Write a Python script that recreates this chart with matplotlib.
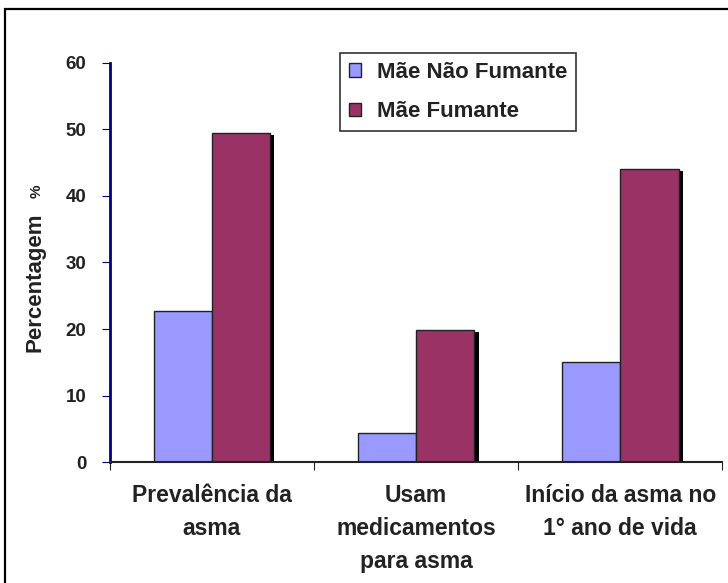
import matplotlib.pyplot as plt
from matplotlib.patches import Rectangle

categories = ['Prevalência da\nasma', 'Usam\nmedicamentos\npara asma', 'Início da asma no\n1° ano de vida']
nao_fumante = [22.7, 4.4, 15.0]
fumante = [49.5, 19.8, 44.1]
series_names = ['Mãe Não Fumante', 'Mãe Fumante']
y_ticks = [0, 10, 20, 30, 40, 50, 60]

plt.rcParams['font.family'] = ['Liberation Sans', 'DejaVu Sans']
plt.rcParams['font.weight'] = 'bold'
txt = '#222222'

fig = plt.figure(figsize=(7.28, 5.83), dpi=100)
ax = fig.add_axes([0.151, 0.2075, 0.841, 0.6845])

# outer frame
fig.patches.append(Rectangle((0.007, -0.05), 1.1, 1.035, transform=fig.transFigure,
                             fill=False, edgecolor='black', linewidth=1.6))

centers = [i + 0.5 for i in range(len(categories))]
w = 0.286
blue_x = [c - w / 2 for c in centers]
red_x = [c + w / 2 for c in centers]

# shadow for the maroon bars
ax.bar([x + 0.02 for x in red_x], [v - 0.3 for v in fumante], width=w,
       color='black', zorder=1)
ax.bar(blue_x, nao_fumante, width=w, color='#9999FF', edgecolor=txt,
       linewidth=1, label=series_names[0], zorder=2)
ax.bar(red_x, fumante, width=w, color='#993366', edgecolor=txt,
       linewidth=1, label=series_names[1], zorder=2)

ax.set_xlim(0, 3)
ax.set_ylim(0, 60)
ax.set_yticks(y_ticks)
ax.set_xticks([0, 1, 2, 3])
ax.set_xticklabels([])
ax.set_xticks(centers, minor=True)
ax.set_xticklabels(categories, minor=True, fontsize=16.5, fontweight='bold',
                   color=txt, linespacing=1.55)
ax.tick_params(axis='x', which='minor', length=0, pad=16)
ax.tick_params(axis='x', which='major', length=6, direction='out', color=txt)
ax.tick_params(axis='y', length=6, pad=11, color='#000080', labelsize=13.5, labelcolor=txt)
for lab in ax.get_yticklabels():
    lab.set_fontweight('bold')

ax.spines['top'].set_visible(False)
ax.spines['right'].set_visible(False)
ax.spines['left'].set_color('#000080')
ax.spines['left'].set_linewidth(2)
ax.spines['bottom'].set_color(txt)
ax.spines['bottom'].set_linewidth(1.5)

# y label: big word, small percent sign
fig.text(35 / 728, 1 - 352 / 583, 'Percentagem', rotation=90, fontsize=16,
         fontweight='bold', color=txt, ha='center', va='bottom')
fig.text(37 / 728, 1 - 198 / 583, '%', rotation=90, fontsize=11,
         fontweight='bold', color=txt, ha='center', va='bottom')

leg = ax.legend(loc='upper left', bbox_to_anchor=(340 / 728, 1 - 53 / 583),
                bbox_transform=fig.transFigure, borderaxespad=0, fontsize=16,
                frameon=True, fancybox=False, edgecolor='black', handlelength=0.55,
                handleheight=0.55, handletextpad=0.7, borderpad=0.4, labelspacing=0.82)
leg.get_frame().set_linewidth(1.2)
for t in leg.get_texts():
    t.set_fontweight('bold')
    t.set_color(txt)

fig.savefig('out.png', dpi=100)
